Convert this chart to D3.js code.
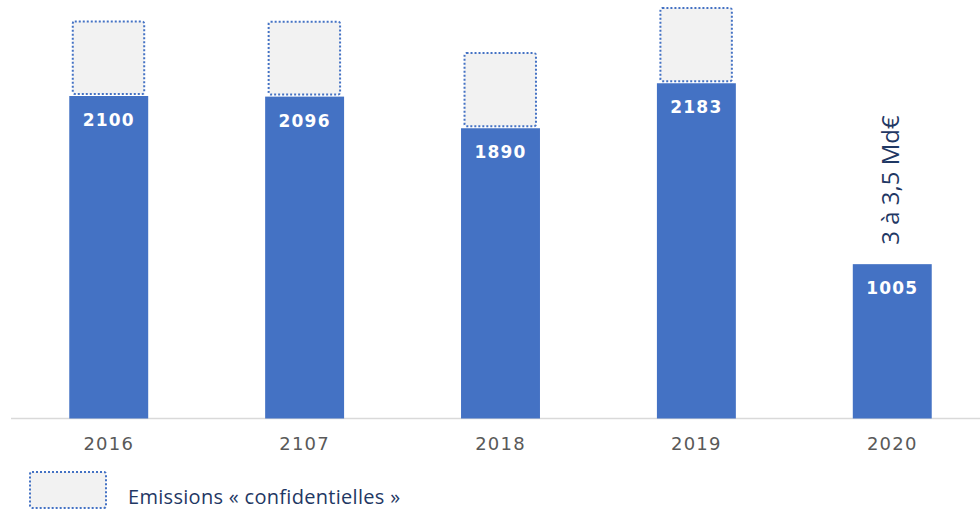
<!DOCTYPE html>
<html>
<head>
<meta charset="utf-8">
<script src="https://cdn.jsdelivr.net/npm/d3@7/dist/d3.min.js"></script>
<style>
  html, body { margin: 0; padding: 0; background: #fff; }
  svg { display: block; }
</style>
</head>
<body>
<svg id="chart" width="980" height="511"></svg>
<script>
// values
var years = ['2016', '2107', '2018', '2019', '2020'];
var emissions = [2100, 2096, 1890, 2183, 1005];
var confidential = [485, 488, 490, 490, null];
var note2020 = '3 à 3,5 Md€';
var legendLabel = 'Emissions « confidentielles »';

var W = 980, H = 511;
var BASE = 418.5;
var BLUE = '#4472c4';

var svg = d3.select('#chart');

var x = d3.scaleBand()
  .domain(years)
  .range([10.5, 990.5])
  .paddingInner(0.597)
  .paddingOuter(0.3);

var y = d3.scaleLinear()
  .domain([0, 2100])
  .range([BASE, 96]);

// axis baseline
svg.append('line')
  .attr('x1', 11).attr('x2', W)
  .attr('y1', BASE).attr('y2', BASE)
  .attr('stroke', '#d9d9d9')
  .attr('stroke-width', 1.5);

var rows = years.map(function(yr, i) {
  return { year: yr, value: emissions[i], conf: confidential[i] };
});

// dotted "confidential" boxes on top of bars
svg.selectAll('.conf')
  .data(rows.filter(function(d) { return d.conf != null; }))
  .enter()
  .append('rect')
  .attr('class', 'conf')
  .attr('x', function(d) { return x(d.year) + 3.5; })
  .attr('width', x.bandwidth() - 7.5)
  .attr('y', function(d) { return y(d.value + d.conf); })
  .attr('height', function(d) { return y(d.value) - y(d.value + d.conf) - 2; })
  .attr('rx', 2)
  .attr('fill', '#f2f2f2')
  .attr('stroke', BLUE)
  .attr('stroke-width', 2)
  .attr('stroke-dasharray', '2,2');

// bars
svg.selectAll('.bar')
  .data(rows)
  .enter()
  .append('rect')
  .attr('class', 'bar')
  .attr('x', function(d) { return x(d.year); })
  .attr('width', x.bandwidth())
  .attr('y', function(d) { return y(d.value); })
  .attr('height', function(d) { return BASE - y(d.value); })
  .attr('fill', BLUE);

// value labels inside bars
svg.selectAll('.val')
  .data(rows)
  .enter()
  .append('text')
  .attr('class', 'val')
  .attr('x', function(d) { return x(d.year) + x.bandwidth() / 2; })
  .attr('y', function(d) { return y(d.value) + 30; })
  .attr('text-anchor', 'middle')
  .attr('font-family', 'DejaVu Sans, Verdana, sans-serif')
  .attr('font-weight', 'bold')
  .attr('font-size', 17)
  .attr('letter-spacing', 1.2)
  .attr('fill', '#fff')
  .text(function(d) { return d.value; });

// x axis labels
svg.selectAll('.tick-label')
  .data(years)
  .enter()
  .append('text')
  .attr('class', 'tick-label')
  .attr('x', function(d) { return x(d) + x.bandwidth() / 2; })
  .attr('y', 450)
  .attr('text-anchor', 'middle')
  .attr('font-family', 'DejaVu Sans, Verdana, sans-serif')
  .attr('font-size', 18)
  .attr('letter-spacing', 1.2)
  .attr('fill', '#595959')
  .text(function(d) { return d; });

// rotated note above 2020 bar
var cx2020 = x('2020') + x.bandwidth() / 2;
svg.append('text')
  .attr('transform', 'translate(' + (cx2020 + 7) + ',' + 180 + ') rotate(-90)')
  .attr('text-anchor', 'middle')
  .attr('font-family', 'Open Sans, Noto Sans, sans-serif')
  .attr('font-size', 24)
  .attr('fill', '#1f3864')
  .text(note2020);

// legend
svg.append('rect')
  .attr('x', 30).attr('y', 472)
  .attr('width', 76).attr('height', 36)
  .attr('rx', 2)
  .attr('fill', '#f2f2f2')
  .attr('stroke', BLUE)
  .attr('stroke-width', 2)
  .attr('stroke-dasharray', '2,2');

svg.append('text')
  .attr('x', 128).attr('y', 504)
  .attr('font-family', 'Open Sans, Noto Sans, sans-serif')
  .attr('font-size', 20)
  .attr('letter-spacing', 0.3)
  .attr('fill', '#1f3864')
  .text(legendLabel);
</script>
</body>
</html>
